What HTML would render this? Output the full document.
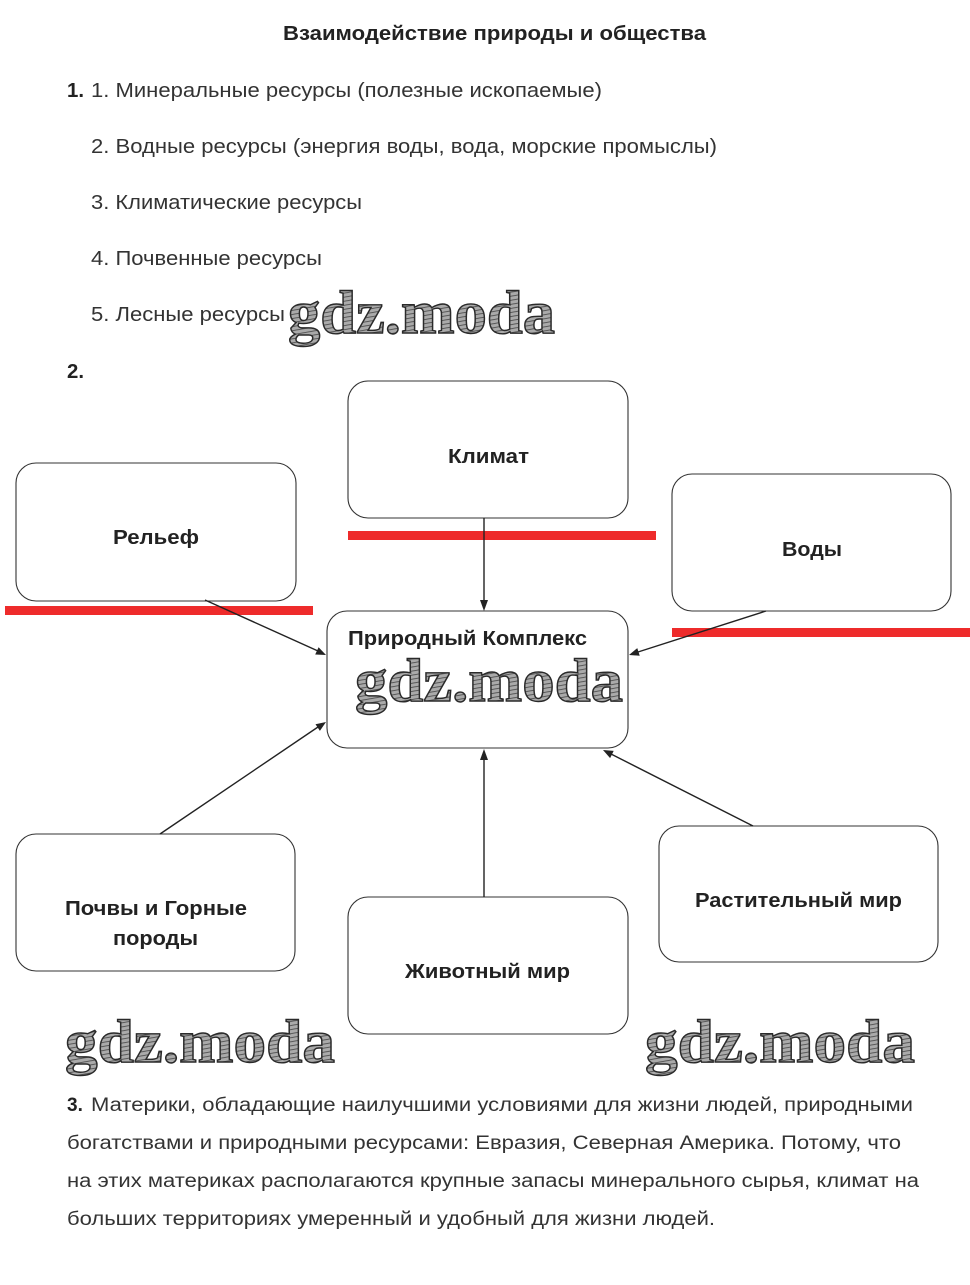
<!DOCTYPE html>
<html>
<head>
<meta charset="utf-8">
<style>
html,body{margin:0;padding:0;background:#fff;}
svg{display:block;}
.t{font-family:"Liberation Sans","Noto Sans CJK SC",sans-serif;fill:#333;font-size:20px;}
.b{font-family:"Liberation Sans","Noto Sans CJK SC",sans-serif;fill:#222;font-size:20px;font-weight:bold;}
.p{font-family:"Liberation Sans","Noto Sans CJK SC",sans-serif;fill:#333;font-size:19px;}
.wm{font-family:"Liberation Serif",serif;font-weight:bold;font-size:61px;fill:url(#hatch);stroke:#2a2a2a;stroke-width:1.4;}
.box{fill:#fff;stroke:#333;stroke-width:1.1;}
.ln{stroke:#222;stroke-width:1.4;fill:none;}
.ah{fill:#222;}
</style>
</head>
<body>
<svg width="970" height="1285" viewBox="0 0 970 1285" xmlns="http://www.w3.org/2000/svg">
<defs>
<pattern id="hatch" width="4" height="4" patternUnits="userSpaceOnUse" patternTransform="rotate(80)">
<rect width="4" height="4" fill="#aaa"/>
<line x1="0" y1="0" x2="0" y2="4" stroke="#4a4a4a" stroke-width="1.7"/>
</pattern>
</defs>

<!-- Title -->
<text class="b" x="283" y="40" textLength="423" lengthAdjust="spacingAndGlyphs">Взаимодействие природы и общества</text>

<!-- Section 1 -->
<text class="b" x="67" y="97" textLength="17" lengthAdjust="spacingAndGlyphs">1.</text>
<text class="t" x="91" y="97" textLength="511" lengthAdjust="spacingAndGlyphs">1. Минеральные ресурсы (полезные ископаемые)</text>
<text class="t" x="91" y="153" textLength="626" lengthAdjust="spacingAndGlyphs">2. Водные ресурсы (энергия воды, вода, морские промыслы)</text>
<text class="t" x="91" y="209" textLength="271" lengthAdjust="spacingAndGlyphs">3. Климатические ресурсы</text>
<text class="t" x="91" y="265" textLength="231" lengthAdjust="spacingAndGlyphs">4. Почвенные ресурсы</text>
<text class="t" x="91" y="321" textLength="194" lengthAdjust="spacingAndGlyphs">5. Лесные ресурсы</text>
<text class="wm" x="288" y="333" textLength="267" lengthAdjust="spacingAndGlyphs">gdz.moda</text>

<text class="b" x="67" y="378" textLength="17" lengthAdjust="spacingAndGlyphs">2.</text>

<!-- Red bars -->
<rect x="348" y="531" width="308" height="9" fill="#ee2b2b"/>
<rect x="5" y="606" width="308" height="9" fill="#ee2b2b"/>
<rect x="672" y="628" width="298" height="9" fill="#ee2b2b"/>

<!-- Boxes -->
<rect class="box" x="348" y="381" width="280" height="137" rx="20" ry="20"/>
<rect class="box" x="16" y="463" width="280" height="138" rx="20" ry="20"/>
<rect class="box" x="672" y="474" width="279" height="137" rx="20" ry="20"/>
<rect class="box" x="327" y="611" width="301" height="137" rx="20" ry="20"/>
<rect class="box" x="16" y="834" width="279" height="137" rx="20" ry="20"/>
<rect class="box" x="348" y="897" width="280" height="137" rx="20" ry="20"/>
<rect class="box" x="659" y="826" width="279" height="136" rx="20" ry="20"/>

<!-- Connectors -->
<line class="ln" x1="484" y1="518" x2="484" y2="602"/>
<polygon class="ah" points="484,611 480,600 488,600"/>

<line class="ln" x1="205" y1="600" x2="318" y2="651"/>
<polygon class="ah" points="326,655 315.2,654.5 318.6,647.3"/>

<line class="ln" x1="766" y1="611" x2="638" y2="652"/>
<polygon class="ah" points="629,655 637.3,648.1 639.7,655.7"/>

<line class="ln" x1="160" y1="834" x2="318" y2="727"/>
<polygon class="ah" points="326,722 319.9,730.9 315.5,724.3"/>

<line class="ln" x1="484" y1="897" x2="484" y2="758"/>
<polygon class="ah" points="484,749 480,760 488,760"/>

<line class="ln" x1="753" y1="826" x2="611" y2="754"/>
<polygon class="ah" points="603,750 613.7,750.9 610.1,758.1"/>

<!-- Box labels -->
<text class="b" x="448" y="463" textLength="81" lengthAdjust="spacingAndGlyphs">Климат</text>
<text class="b" x="113" y="544" textLength="86" lengthAdjust="spacingAndGlyphs">Рельеф</text>
<text class="b" x="782" y="556" textLength="60" lengthAdjust="spacingAndGlyphs">Воды</text>
<text class="b" x="348" y="645" textLength="239" lengthAdjust="spacingAndGlyphs">Природный Комплекс</text>
<text class="wm" x="355" y="701" textLength="268" lengthAdjust="spacingAndGlyphs">gdz.moda</text>
<text class="b" x="65" y="915" textLength="182" lengthAdjust="spacingAndGlyphs">Почвы и Горные</text>
<text class="b" x="113" y="945" textLength="85" lengthAdjust="spacingAndGlyphs">породы</text>
<text class="b" x="405" y="978" textLength="165" lengthAdjust="spacingAndGlyphs">Животный мир</text>
<text class="b" x="695" y="907" textLength="207" lengthAdjust="spacingAndGlyphs">Растительный мир</text>

<!-- Bottom watermarks -->
<text class="wm" x="65" y="1062" textLength="270" lengthAdjust="spacingAndGlyphs">gdz.moda</text>
<text class="wm" x="645" y="1062" textLength="270" lengthAdjust="spacingAndGlyphs">gdz.moda</text>

<!-- Section 3 -->
<text class="p" x="67" y="1111" font-weight="bold" fill="#222" style="fill:#222;font-weight:bold">3.</text>
<text class="p" x="91" y="1111" textLength="822" lengthAdjust="spacingAndGlyphs">Материки, обладающие наилучшими условиями для жизни людей, природными</text>
<text class="p" x="67" y="1149" textLength="834" lengthAdjust="spacingAndGlyphs">богатствами и природными ресурсами: Евразия, Северная Америка. Потому, что</text>
<text class="p" x="67" y="1187" textLength="852" lengthAdjust="spacingAndGlyphs">на этих материках располагаются крупные запасы минерального сырья, климат на</text>
<text class="p" x="67" y="1225" textLength="648" lengthAdjust="spacingAndGlyphs">больших территориях умеренный и удобный для жизни людей.</text>
</svg>
</body>
</html>
